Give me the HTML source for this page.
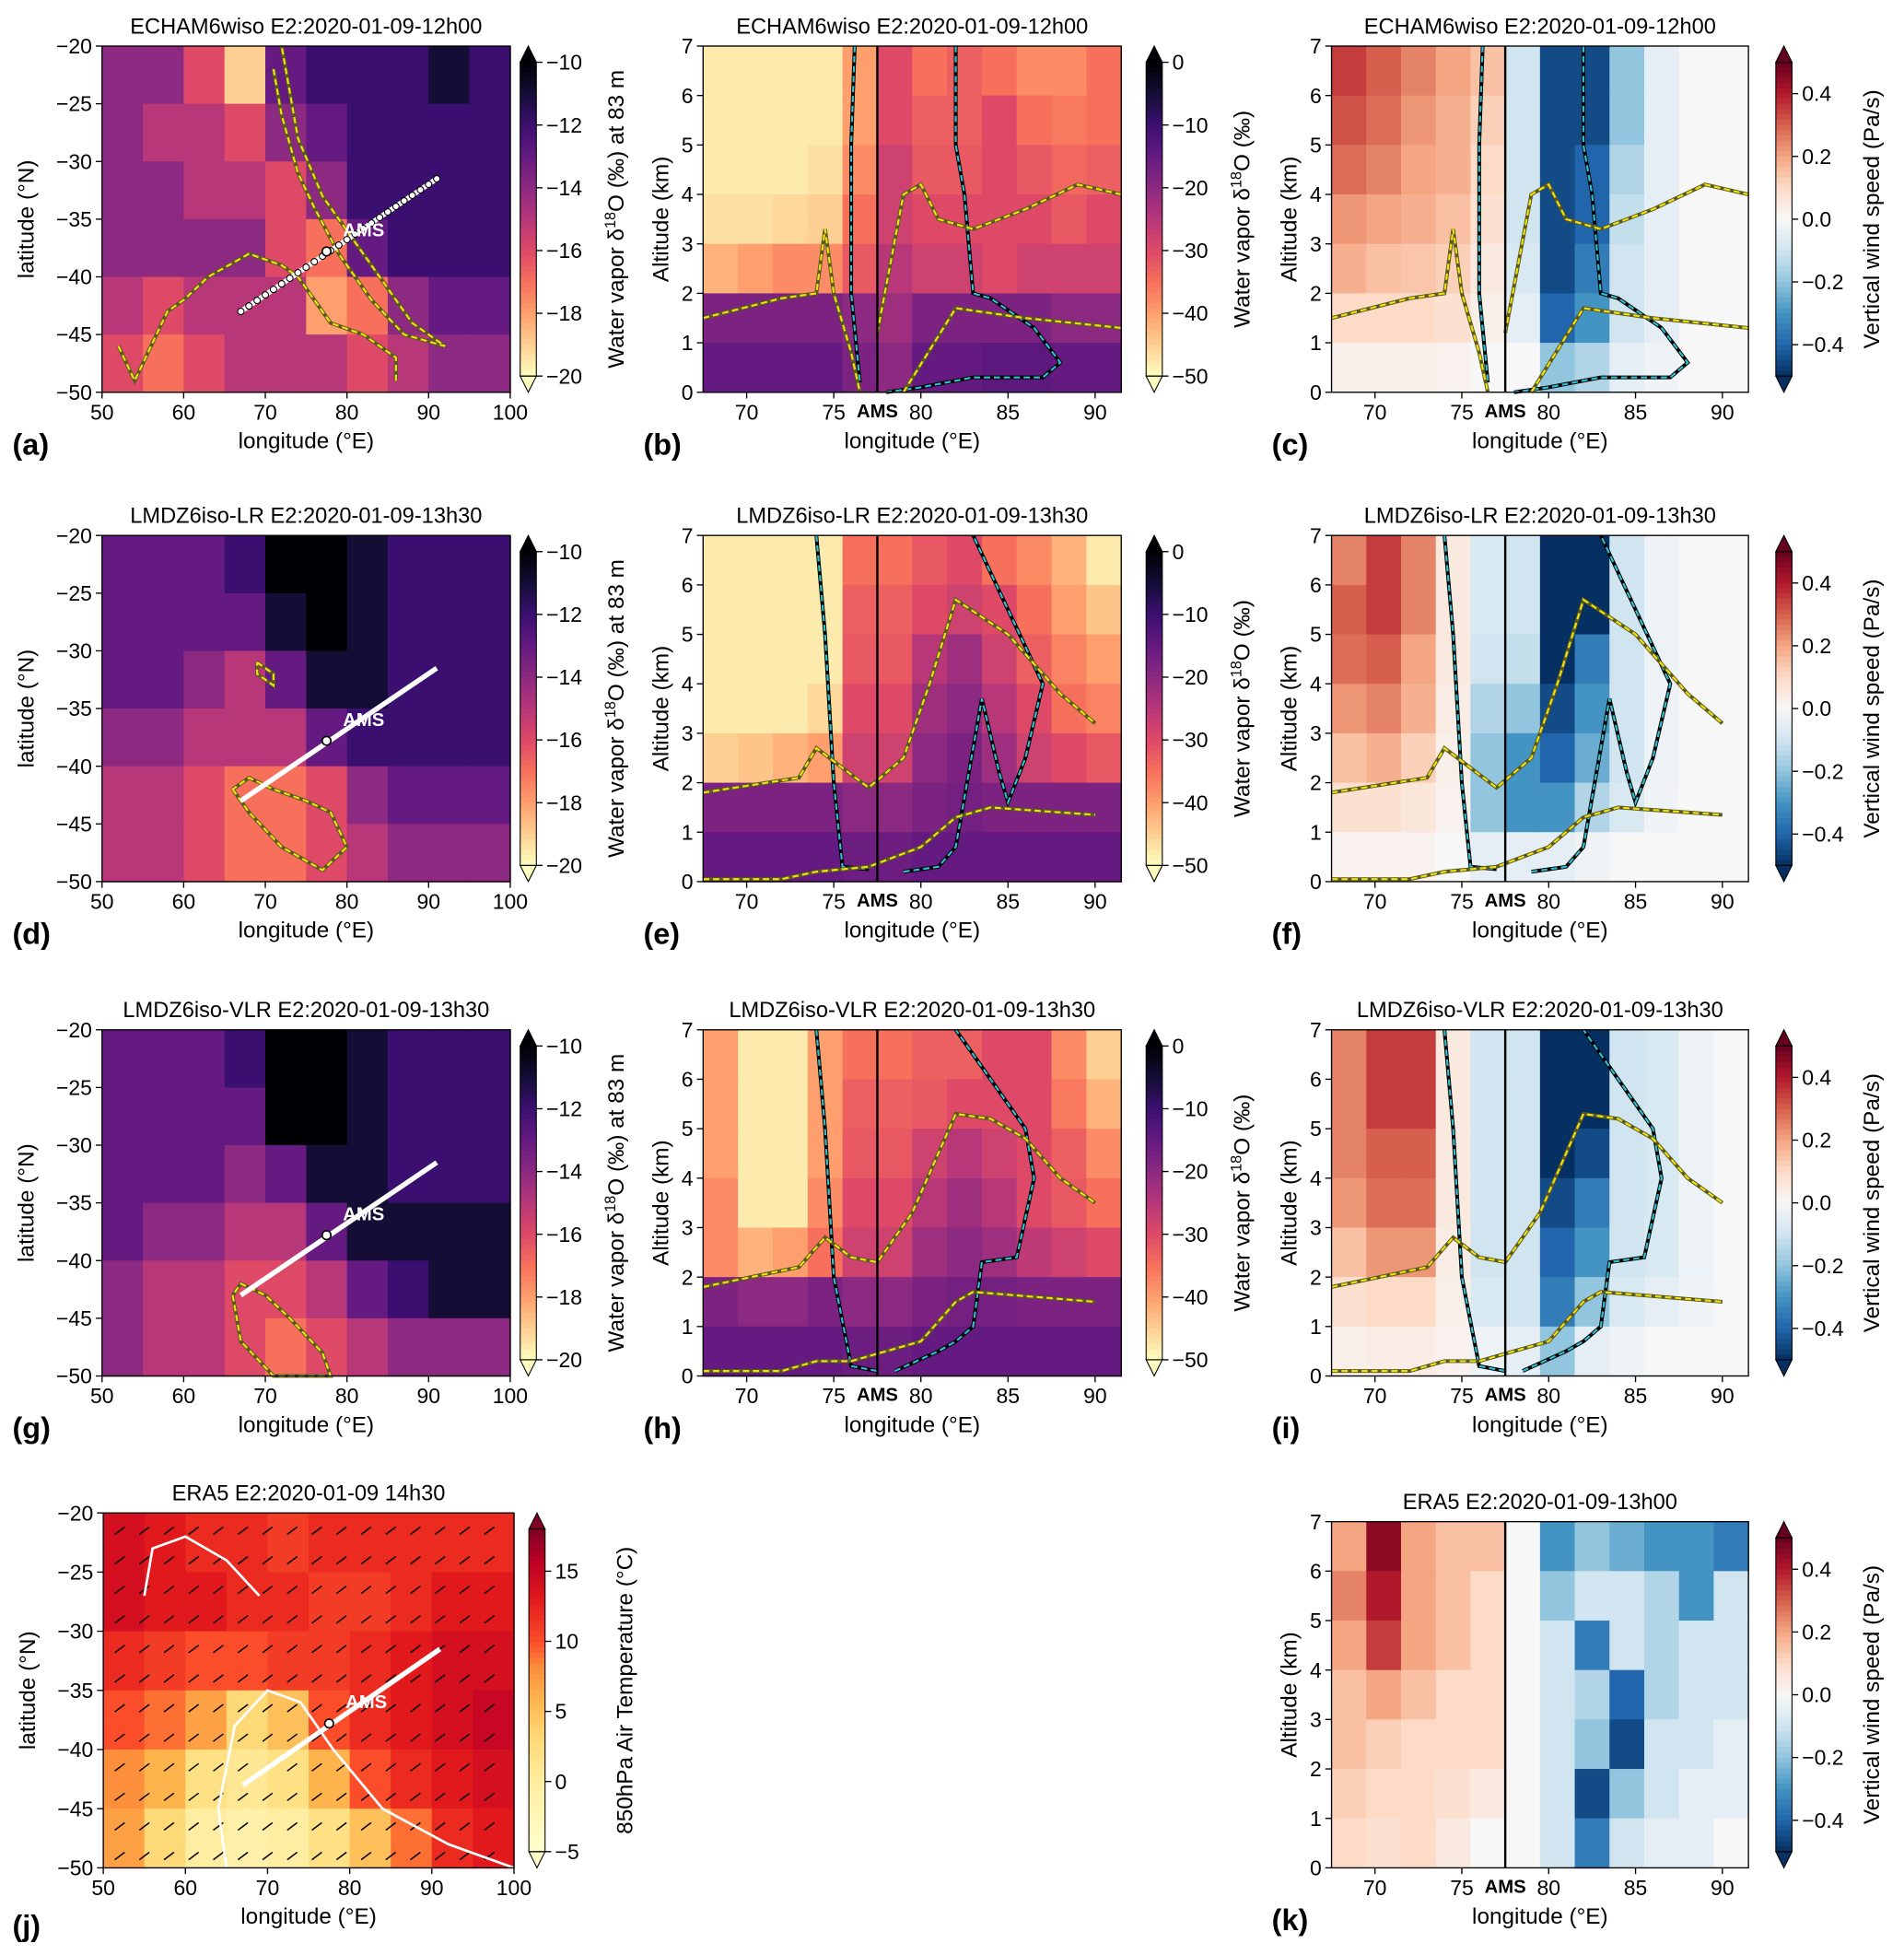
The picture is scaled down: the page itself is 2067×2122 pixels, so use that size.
<!DOCTYPE html>
<html><head><meta charset="utf-8">
<style>
html,body{margin:0;padding:0;background:#fff;}
svg{display:block;font-family:"Liberation Sans",sans-serif;}
</style></head>
<body>
<svg id="fig" xmlns="http://www.w3.org/2000/svg" width="2067" height="2122" viewBox="0 0 1530 1570" preserveAspectRatio="none"></svg>
<script>
// ---------- DATA ----------
const mapLonEdges=[50,55,60,65,70,75,80,85,90,95,100];
const mapLatEdges=[-20,-25,-30,-35,-40,-45,-50];
const xsLonEdges=[67.5,69.5,71.5,73.5,75.5,77.5,79.5,81.5,83.5,85.5,87.5,89.5,91.5];
const xsAltEdges=[7,6,5,4,3,2,1,0];
const mapA=[[-14,-14,-16,-19,-13,-12,-12,-12,-11,-12],[-14,-15,-15,-16,-14,-13,-12,-12,-12,-12],[-14,-14,-15,-15,-16,-14,-12,-12,-12,-12],[-14,-14,-14,-14,-16,-17,-13,-12,-12,-12],[-15,-16,-15,-15,-15,-18,-17,-14,-13,-13],[-16,-17,-16,-15,-15,-15,-16,-15,-14,-14]];
const mapD=[[-13,-13,-13,-12,-10,-10,-11,-12,-12,-12],[-13,-13,-13,-13,-11,-10,-11,-12,-12,-12],[-13,-13,-14,-15,-13,-11,-11,-12,-12,-12],[-14,-14,-15,-15,-15,-13,-12,-12,-12,-12],[-15,-15,-16,-17,-17,-16,-14,-13,-13,-13],[-15,-15,-16,-17,-17,-16,-15,-14,-14,-14]];
const mapG=[[-13,-13,-13,-12,-10,-10,-11,-12,-12,-12],[-13,-13,-13,-13,-10,-10,-11,-12,-12,-12],[-13,-13,-13,-14,-13,-11,-11,-12,-12,-12],[-13,-14,-14,-15,-15,-13,-11,-11,-11,-11],[-14,-15,-15,-16,-16,-15,-13,-12,-11,-11],[-14,-15,-15,-16,-17,-16,-15,-14,-14,-14]];
const mapJ=[[14,13,12,12,11,12,12,12,12,12],[14,13,13,12,12,11,11,12,13,13],[12,11,10,10,11,11,12,13,14,14],[10,9,7,3,5,10,12,13,14,15],[8,6,2,1,2,6,10,12,13,14],[7,3,0,-1,0,2,5,9,12,13]];
const xsB=[[-48,-48,-48,-48,-40,-30,-35,-33,-35,-38,-38,-35],[-48,-48,-48,-48,-40,-30,-33,-33,-30,-35,-36,-35],[-48,-48,-48,-47,-38,-28,-32,-32,-30,-32,-34,-33],[-47,-47,-46,-45,-35,-28,-30,-30,-30,-30,-32,-30],[-42,-40,-38,-38,-32,-25,-28,-28,-30,-28,-28,-28],[-18,-18,-18,-18,-20,-22,-18,-18,-18,-18,-20,-20],[-15,-15,-15,-15,-18,-20,-15,-15,-14,-14,-15,-15]];
const xsC=[[0.35,0.3,0.25,0.2,0.15,-0.1,-0.45,-0.45,-0.2,-0.05,0,0],[0.32,0.28,0.22,0.18,0.12,-0.1,-0.45,-0.45,-0.2,-0.05,0,0],[0.28,0.25,0.2,0.18,0.1,-0.1,-0.45,-0.4,-0.15,-0.05,0,0],[0.22,0.2,0.18,0.15,0.08,-0.1,-0.45,-0.4,-0.12,-0.05,0,0],[0.18,0.15,0.14,0.12,0.05,-0.08,-0.45,-0.35,-0.1,-0.05,0,0],[0.1,0.1,0.1,0.08,0.03,-0.05,-0.4,-0.3,-0.1,-0.05,0,0],[0.03,0.03,0.03,0.02,0,0,-0.2,-0.15,-0.05,-0.02,0,0]];
const xsE=[[-48,-48,-48,-48,-35,-35,-32,-30,-35,-38,-42,-48],[-48,-48,-48,-48,-33,-33,-30,-28,-30,-35,-40,-44],[-48,-48,-48,-48,-32,-32,-25,-22,-28,-33,-37,-40],[-48,-48,-48,-46,-30,-30,-22,-20,-25,-30,-35,-37],[-45,-44,-42,-40,-28,-28,-20,-18,-22,-28,-30,-32],[-18,-18,-18,-18,-20,-20,-18,-17,-18,-18,-18,-18],[-15,-15,-15,-15,-16,-16,-15,-15,-15,-15,-15,-15]];
const xsF=[[0.25,0.35,0.25,0.05,-0.08,-0.1,-0.5,-0.5,-0.1,-0.03,0,0],[0.3,0.35,0.25,0.05,-0.08,-0.1,-0.5,-0.5,-0.1,-0.03,0,0],[0.28,0.3,0.2,0.05,-0.1,-0.12,-0.5,-0.35,-0.1,-0.03,0,0],[0.22,0.25,0.18,0.04,-0.15,-0.2,-0.45,-0.3,-0.1,-0.03,0,0],[0.15,0.18,0.12,0.03,-0.2,-0.3,-0.4,-0.25,-0.1,-0.03,0,0],[0.08,0.08,0.06,0.02,-0.2,-0.3,-0.3,-0.15,-0.08,-0.02,0,0],[0.02,0.02,0.02,0,-0.05,-0.05,-0.05,-0.02,0,0,0,0]];
const xsH=[[-40,-48,-48,-40,-35,-35,-33,-33,-30,-30,-38,-45],[-40,-48,-48,-40,-33,-33,-32,-30,-30,-30,-36,-42],[-40,-48,-48,-40,-32,-32,-28,-25,-28,-30,-33,-38],[-38,-48,-48,-38,-30,-30,-25,-22,-25,-30,-32,-35],[-38,-42,-40,-35,-28,-28,-22,-20,-22,-26,-28,-30],[-18,-20,-20,-18,-20,-20,-18,-17,-17,-18,-18,-18],[-15,-15,-15,-15,-16,-16,-15,-15,-15,-15,-15,-15]];
const xsI=[[0.25,0.35,0.35,0.05,-0.1,-0.1,-0.5,-0.5,-0.1,-0.08,-0.03,0],[0.25,0.35,0.35,0.05,-0.1,-0.1,-0.5,-0.5,-0.1,-0.08,-0.03,0],[0.25,0.3,0.3,0.05,-0.1,-0.1,-0.5,-0.45,-0.1,-0.08,-0.03,0],[0.22,0.28,0.28,0.05,-0.1,-0.1,-0.45,-0.35,-0.1,-0.08,-0.03,0],[0.15,0.22,0.22,0.04,-0.1,-0.1,-0.4,-0.3,-0.1,-0.08,-0.03,0],[0.08,0.1,0.1,0.03,-0.08,-0.1,-0.35,-0.2,-0.08,-0.05,-0.02,0],[0.03,0.04,0.04,0.02,-0.03,-0.05,-0.2,-0.05,-0.02,0,0,0]];
const xsK=[[0.2,0.45,0.2,0.15,0.15,0,-0.3,-0.2,-0.25,-0.3,-0.3,-0.35],[0.25,0.4,0.2,0.15,0.1,0,-0.2,-0.1,-0.1,-0.15,-0.3,-0.1],[0.2,0.35,0.2,0.15,0.1,0,-0.1,-0.35,-0.1,-0.15,-0.1,-0.1],[0.15,0.2,0.15,0.1,0.1,0,-0.1,-0.15,-0.4,-0.15,-0.1,-0.1],[0.15,0.12,0.1,0.1,0.1,0,-0.1,-0.2,-0.45,-0.1,-0.1,-0.05],[0.12,0.1,0.1,0.08,0.05,0,-0.1,-0.45,-0.2,-0.1,-0.05,-0.05],[0.1,0.08,0.1,0.05,0,0,-0.1,-0.35,-0.1,-0.05,-0.05,0]];
// contour lines (lon, alt)
const yellowB=[[[67.5,1.5],[72,1.9],[74,2],[74.5,3.3],[75,2],[76,0.8],[76.5,0]],[[77.5,1.2],[79,4],[80,4.2],[81,3.5],[83,3.3],[86,3.7],[89,4.2],[91.5,4]],[[79,0],[82,1.7],[86,1.5],[91.5,1.3]]];
const blackB=[[[76.2,7],[76,5],[76,2],[76.5,0.2]],[[82,7],[82,5],[82.5,4],[83,2],[84,1.9],[86.5,1.3],[88,0.6],[87,0.3],[83,0.3],[80,0.1],[78,0]]];
const yellowE=[[[67.5,1.8],[73,2.1],[74,2.7],[77,1.9],[79,2.5],[80.5,4],[82,5.7],[85,5],[88,3.8],[90,3.2]],[[67.5,0.05],[72,0.05],[74,0.2],[77,0.3],[80,0.7],[82,1.3],[84,1.5],[90,1.35]]];
const blackE=[[[74,7],[74.5,5],[75,2],[75.5,0.3],[77,0.25]],[[79,0.2],[81,0.3],[82,0.7],[83.5,3.7],[84.5,2.2],[85,1.6],[86,2.5],[87,4],[85,5.5],[83,7]]];
const yellowH=[[[67.5,1.8],[73,2.2],[74.5,2.8],[76,2.4],[77.5,2.3],[79.5,3.3],[82,5.3],[84,5.2],[86,4.8],[88,4],[90,3.5]],[[67.5,0.1],[72,0.1],[74,0.3],[76,0.3],[80,0.7],[82,1.5],[83,1.7],[90,1.5]]];
const blackH=[[[74,7],[74.5,5],[75,2],[76,0.2],[77.5,0.1]],[[78.5,0.1],[81,0.5],[82,0.7],[83,1],[83.5,2.3],[85.5,2.4],[86.5,4],[86,5],[84,6],[82,7]]];
const d18Ticks=[-10,-12,-14,-16,-18,-20];
const xsD18Ticks=[0,-10,-20,-30,-40,-50];
const windTicks=[0.4,0.2,0.0,-0.2,-0.4];
const tempTicks=[15,10,5,0,-5];
const lonTicksMap=[50,60,70,80,90,100];
const latTicksMap=[-20,-25,-30,-35,-40,-45,-50];
const lonTicksXs=[70,75,80,85,90];
const altTicks=[0,1,2,3,4,5,6,7];

// ---------- COLORMAPS ----------
function hex(h){return [parseInt(h.slice(1,3),16),parseInt(h.slice(3,5),16),parseInt(h.slice(5,7),16)];}
function interp(stops,t){t=Math.max(0,Math.min(1,t));for(let i=1;i<stops.length;i++){if(t<=stops[i][0]){const a=stops[i-1],b=stops[i];const f=(t-a[0])/(b[0]-a[0]||1);const ca=hex(a[1]),cb=hex(b[1]);return 'rgb('+ca.map((c,k)=>Math.round(c+(cb[k]-c)*f)).join(',')+')';}}return stops[stops.length-1][1];}
const magmaR=[[0,'#fcfdbf'],[0.1,'#fecf92'],[0.2,'#fe9f6d'],[0.3,'#f7705c'],[0.4,'#de4968'],[0.5,'#b73779'],[0.6,'#8c2981'],[0.7,'#641a80'],[0.8,'#3b0f70'],[0.9,'#140e36'],[1,'#000004']];
const rdbu=[[0,'#053061'],[0.1,'#2166ac'],[0.2,'#4393c3'],[0.3,'#92c5de'],[0.4,'#d1e5f0'],[0.5,'#f7f7f7'],[0.6,'#fddbc7'],[0.7,'#f4a582'],[0.8,'#d6604d'],[0.9,'#b2182b'],[1,'#67001f']];
const ylorrd=[[0,'#ffffcc'],[0.22,'#ffeda0'],[0.35,'#fed976'],[0.48,'#feb24c'],[0.57,'#fd8d3c'],[0.65,'#fc4e2a'],[0.78,'#e31a1c'],[0.9,'#bd0026'],[1,'#800026']];
const cmD18=v=>interp(magmaR,(v+20)/10);
const cmXs=v=>interp(magmaR,(v+50)/50);
const cmW=v=>interp(rdbu,(v+0.5)/1.0);
const cmT=v=>interp(ylorrd,(v+5)/23);

// ---------- HELPERS ----------
const NS='http://www.w3.org/2000/svg';
const fig=document.getElementById('fig');
function mk(tag,attrs,parent){const e=document.createElementNS(NS,tag);for(const k in attrs)e.setAttribute(k,attrs[k]);(parent||fig).appendChild(e);return e;}
function txt(s,attrs,parent){const e=mk('text',attrs,parent);e.textContent=s;return e;}

function axis(x0,x1,y0,y1,xd0,xd1,yd0,yd1){return {x:v=>x0+(v-xd0)/(xd1-xd0)*(x1-x0),y:v=>y1-(v-yd0)/(yd1-yd0)*(y1-y0),x0,x1,y0,y1};}

function grid(g,ax,vals,xE,yE,cm){
  for(let r=0;r<vals.length;r++)for(let c=0;c<vals[r].length;c++){
    const xa=ax.x(xE[c]),xb=ax.x(xE[c+1]),ya=ax.y(yE[r]),yb=ax.y(yE[r+1]);
    const e=mk('rect',{x:Math.min(xa,xb),y:Math.min(ya,yb),width:Math.abs(xb-xa)+0.6,height:Math.abs(yb-ya)+0.6,fill:cm(vals[r][c])},g);
    
    
  }
}
function contour(g,ax,lines,dark,light){
  lines.forEach(l=>{
    const pts=l.map(p=>ax.x(p[0])+','+ax.y(p[1])).join(' ');
    const a=mk('polyline',{points:pts,fill:'none',stroke:dark,'stroke-width':3},g);
    
    
    const b=mk('polyline',{points:pts,fill:'none',stroke:light,'stroke-width':1.6,'stroke-dasharray':'5,3'},g);
    
    
  });
}
function frame(g,ax){const e=mk('rect',{x:ax.x0,y:ax.y0,width:ax.x1-ax.x0,height:ax.y1-ax.y0,fill:'none',stroke:'#000','stroke-width':1},g);}
function xticks(g,ax,ticks,label){
  ticks.forEach(t=>{const X=ax.x(t);const l=mk('line',{x1:X,x2:X,y1:ax.y1,y2:ax.y1+5,stroke:'#000'},g);
    const s=txt(String(t).replace('-','−'),{x:X,y:ax.y1+22,'font-size':17,'text-anchor':'middle'},g);});
  const s=txt(label,{x:(ax.x0+ax.x1)/2,y:ax.y1+45,'font-size':18,'text-anchor':'middle'},g);
}
function yticks(g,ax,ticks,label){
  ticks.forEach(t=>{const Y=ax.y(t);const l=mk('line',{x1:ax.x0-5,x2:ax.x0,y1:Y,y2:Y,stroke:'#000'},g);
    const s=txt(String(t).replace('-','−'),{x:ax.x0-8,y:Y+6,'font-size':17,'text-anchor':'end'},g);});
  const tx=ax.x0-(ticks[0]<0?55:28);const ty=(ax.y0+ax.y1)/2;
  const s=txt(label,{x:tx,y:ty,'font-size':18,'text-anchor':'middle',transform:'rotate(-90 '+tx+' '+ty+')'},g);
}
function title(g,ax,s){const e=txt(s,{x:(ax.x0+ax.x1)/2,y:ax.y0-10,'font-size':17.5,'text-anchor':'middle'},g);}
function letter(g,x,y,s){const e=txt(s,{x:x,y:y,'font-size':24,'font-weight':'bold'},g);}
function colorbar(g,x,y0,y1,vTop,vBot,cm,ticks,label,fmt){
  const bw=13,tri=13,by0=y0+tri,by1=y1-tri;const N=60;
  for(let i=0;i<N;i++){const v=vTop+(vBot-vTop)*(i+0.5)/N;const r=mk('rect',{x:x,y:by0+(by1-by0)*i/N,width:bw,height:(by1-by0)/N+0.6,fill:cm(v)},g);}
  const t1=mk('polygon',{points:`${x},${by0} ${x+bw},${by0} ${x+bw/2},${y0}`,fill:cm(vTop+(vTop-vBot)*0.05),stroke:'#000','stroke-width':0.8},g);
  const t2=mk('polygon',{points:`${x},${by1} ${x+bw},${by1} ${x+bw/2},${y1}`,fill:cm(vBot-(vTop-vBot)*0.05),stroke:'#000','stroke-width':0.8},g);
  const fr=mk('rect',{x:x,y:by0,width:bw,height:by1-by0,fill:'none',stroke:'#000','stroke-width':0.8},g);
  ticks.forEach(t=>{const Y=by0+(t-vTop)/(vBot-vTop)*(by1-by0);const l=mk('line',{x1:x+bw,x2:x+bw+5,y1:Y,y2:Y,stroke:'#000'},g);
    const s=txt(fmt(t).replace('-','−'),{x:x+bw+8,y:Y+6,'font-size':17},g);});
  const lx=x+bw+70,ly=(y0+y1)/2;
  const s=mk('text',{x:lx,y:ly,'font-size':18,'text-anchor':'middle',transform:'rotate(-90 '+lx+' '+ly+')'},g);
  s.innerHTML=label;
  
}
const d18Label='Water vapor δ<tspan baseline-shift="super" font-size="12">18</tspan>O (‰) at 83 m';
const xsLabel='Water vapor δ<tspan baseline-shift="super" font-size="12">18</tspan>O (‰)';
const f0=t=>String(t), f1=t=>t.toFixed(1);

function transect(g,ax,dots){
  const a=mk('line',{x1:ax.x(67),y1:ax.y(-43),x2:ax.x(91),y2:ax.y(-31.5),stroke:'#fff','stroke-width':4},g);
  if(dots){for(let i=0;i<=24;i++){const lo=67+i,la=-43+i*11.5/24;const c=mk('circle',{cx:ax.x(lo),cy:ax.y(la),r:2.6,fill:'#fff',stroke:'#000','stroke-width':0.8},g);}}
  const c=mk('circle',{cx:ax.x(77.5),cy:ax.y(-37.8),r:3.5,fill:'#fff',stroke:'#000','stroke-width':1.2},g);
  const s=txt('AMS',{x:ax.x(79.5),y:ax.y(-36.5),'font-size':15,'font-weight':'bold',fill:'#fff'},g);
}

function mapPanel(name,y0,y1,vals,ttl,let_,yellowLines){
  const g=mk('g',{});
  const ax=axis(82,410,y0,y1,50,100,-50,-20);
  grid(g,ax,vals,mapLonEdges,mapLatEdges,cmD18);
  contour(g,ax,yellowLines,'#5a5a20','#f0e010');
  transect(g,ax,name==='panel-a');
  frame(g,ax);xticks(g,ax,lonTicksMap,'longitude (°E)');yticks(g,ax,latTicksMap,'latitude (°N)');title(g,ax,ttl);
  colorbar(g,418,y0,y1,-10,-20,cmD18,d18Ticks,d18Label,f0);
  letter(g,10,y1+50,let_);
}
function xsPanel(name,x0,x1,y0,y1,vals,cm,ttl,let_,yl,bl,isWind){
  const g=mk('g',{});
  const ax=axis(x0,x1,y0,y1,67.5,91.5,0,7);
  grid(g,ax,vals,xsLonEdges,xsAltEdges,cm);
  if(bl)contour(g,ax,bl,'#000','#30c0d0');
  if(yl)contour(g,ax,yl,'#5a5a20','#f0e010');
  const X=ax.x(77.5);const l=mk('line',{x1:X,x2:X,y1:y0,y2:y1,stroke:'#000','stroke-width':1.8},g);
  frame(g,ax);xticks(g,ax,lonTicksXs,'longitude (°E)');yticks(g,ax,altTicks,'Altitude (km)');title(g,ax,ttl);
  const s=txt('AMS',{x:X,y:y1+20,'font-size':15,'font-weight':'bold','text-anchor':'middle'},g);
  if(isWind)colorbar(g,x1+22,y0,y1,0.5,-0.5,cmW,windTicks,'Vertical wind speed (Pa/s)',f1);
  else colorbar(g,x1+20,y0,y1,0,-50,cmXs,xsD18Ticks,xsLabel,f0);
  letter(g,x0-48,y1+50,let_);
}
const yA=[[[52,-46],[54,-49],[56,-46],[58,-43],[60,-42],[63,-40],[68,-38],[72,-39],[74,-40],[76,-42],[78,-44],[82,-45],[86,-47],[86,-49]],[[71,-22],[72,-26],[74,-31],[76,-34],[79,-38],[83,-42],[87,-45],[92,-46],[88,-44],[84,-40],[80,-36],[77,-33],[74,-28],[72,-20]]];
const yD=[[[66,-42],[68,-44],[72,-47],[77,-49],[80,-47],[78,-44],[75,-43],[71,-42],[68,-41],[66,-42]],[[69,-31],[71,-32],[71,-33],[69,-32],[69,-31]]];
const yG=[[[66,-43],[67,-47],[71,-50],[78,-50],[77,-48],[73,-45],[70,-43],[67,-42],[66,-43]]];
mapPanel('panel-a',37,315,mapA,'ECHAM6wiso E2:2020-01-09-12h00','(a)',yA);
mapPanel('panel-d',430,708,mapD,'LMDZ6iso-LR E2:2020-01-09-13h30','(d)',yD);
mapPanel('panel-g',827,1105,mapG,'LMDZ6iso-VLR E2:2020-01-09-13h30','(g)',yG);
xsPanel('panel-b',565,901,37,315,xsB,cmXs,'ECHAM6wiso E2:2020-01-09-12h00','(b)',yellowB,blackB,false);
xsPanel('panel-c',1070,1405,37,315,xsC,cmW,'ECHAM6wiso E2:2020-01-09-12h00','(c)',yellowB,blackB,true);
xsPanel('panel-e',565,901,430,708,xsE,cmXs,'LMDZ6iso-LR E2:2020-01-09-13h30','(e)',yellowE,blackE,false);
xsPanel('panel-f',1070,1405,430,708,xsF,cmW,'LMDZ6iso-LR E2:2020-01-09-13h30','(f)',yellowE,blackE,true);
xsPanel('panel-h',565,901,827,1105,xsH,cmXs,'LMDZ6iso-VLR E2:2020-01-09-13h30','(h)',yellowH,blackH,false);
xsPanel('panel-i',1070,1405,827,1105,xsI,cmW,'LMDZ6iso-VLR E2:2020-01-09-13h30','(i)',yellowH,blackH,true);
xsPanel('panel-k',1070,1405,1222,1500,xsK,cmW,'ERA5 E2:2020-01-09-13h00','(k)',null,null,true);
// panel j
(function(){
  const g=mk('g',{});
  const ax=axis(83,413,1215,1500,50,100,-50,-20);
  grid(g,ax,mapJ,mapLonEdges,mapLatEdges,cmT);
  for(let lo=52;lo<100;lo+=3)for(let la=-21.5;la>-50;la-=2.5){
    const X=ax.x(lo),Y=ax.y(la);const b=mk('line',{x1:X-4,y1:Y+3,x2:X+4,y2:Y-3,stroke:'#000','stroke-width':1.1},g);
  }
  const wl=mk('polyline',{points:[[65,-50],[64,-45],[66,-38],[70,-35],[74,-36],[78,-40],[84,-45],[92,-48],[100,-50]].map(p=>ax.x(p[0])+','+ax.y(p[1])).join(' '),fill:'none',stroke:'#fff','stroke-width':2},g);
  const wl2=mk('polyline',{points:[[55,-27],[56,-23],[60,-22],[65,-24],[69,-27]].map(p=>ax.x(p[0])+','+ax.y(p[1])).join(' '),fill:'none',stroke:'#fff','stroke-width':2},g);
  transect(g,ax,false);
  frame(g,ax);xticks(g,ax,lonTicksMap,'longitude (°E)');yticks(g,ax,latTicksMap,'latitude (°N)');title(g,ax,'ERA5 E2:2020-01-09 14h30');
  colorbar(g,425,1215,1500,18,-5,cmT,tempTicks,'850hPa Air Temperature (°C)',f0);
  letter(g,10,1555,'(j)');
})();
</script>
</body></html>
